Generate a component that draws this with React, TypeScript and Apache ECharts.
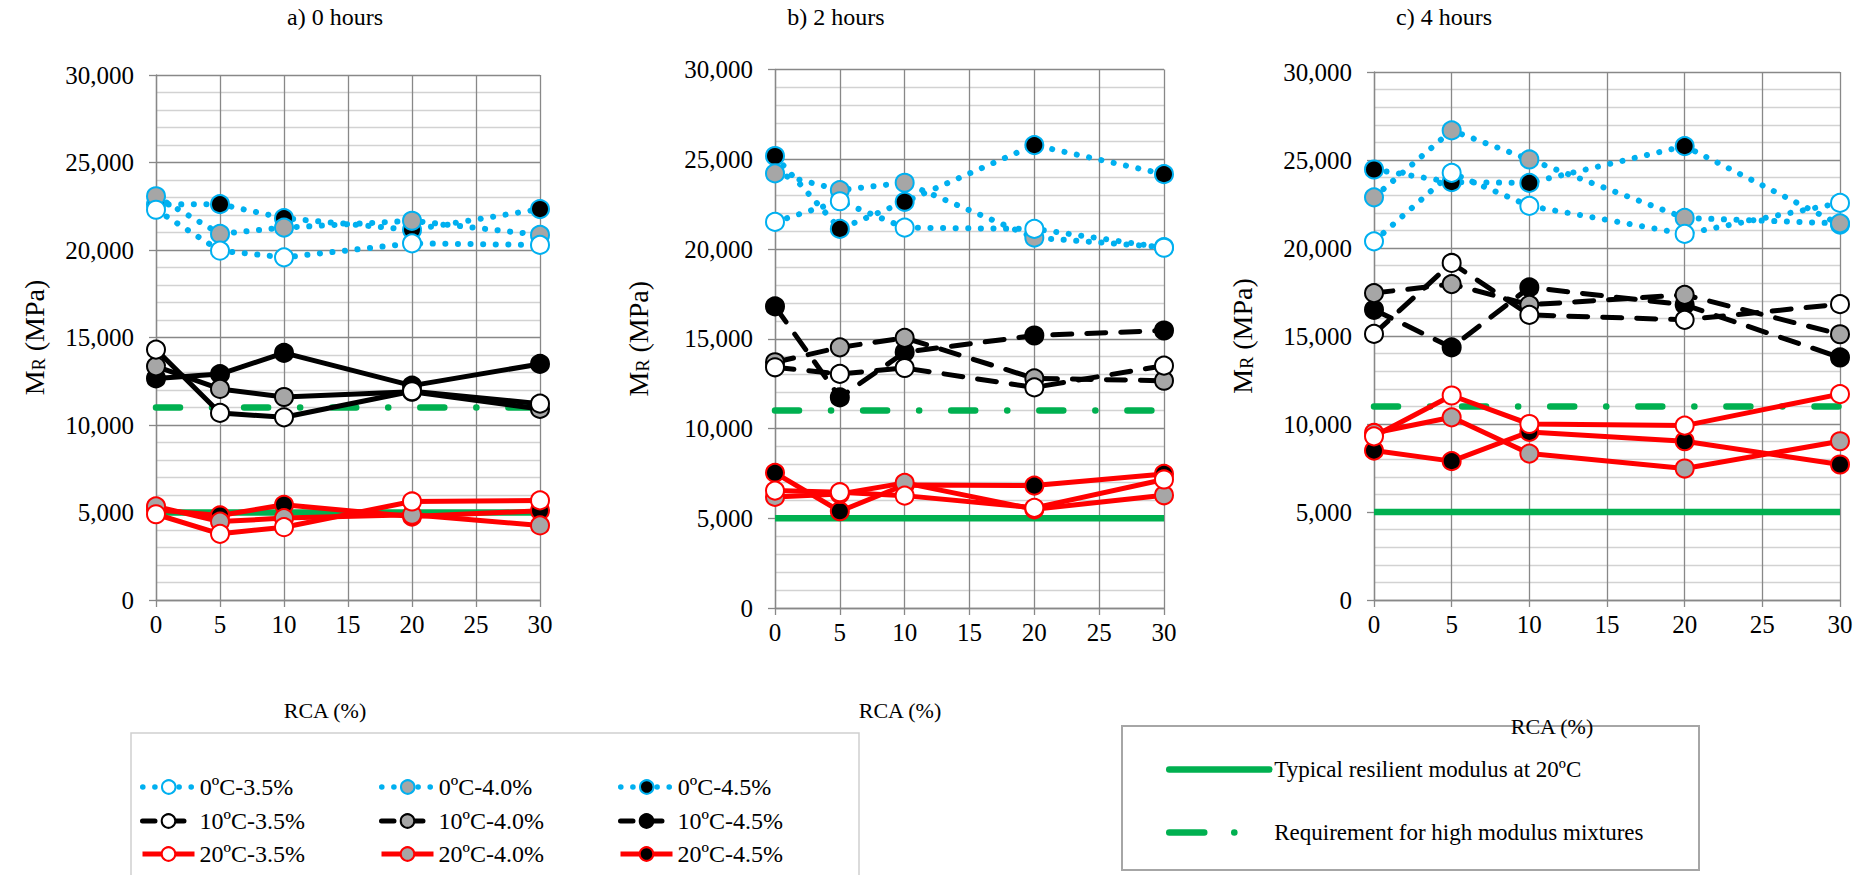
import React, { useEffect, useRef } from 'react';
import * as echarts from 'echarts';

const FONT = 'Liberation Serif, Times New Roman, serif';

// X positions (RCA %) of the measured points
const RCA = [0, 5, 10, 20, 30];

// Reference levels
const TYPICAL_20C = 5000;
const HIGH_MODULUS_REQ = 11000;

// a) 0 hours
const A_0C_35 = [22300, 19960, 19580, 20380, 20290];
const A_0C_40 = [23070, 20920, 21280, 21670, 20860];
const A_0C_45 = [22600, 22620, 21820, 21150, 22340];
const A_10C_35 = [14310, 10690, 10440, 11930, 11220];
const A_10C_40 = [13350, 12060, 11600, 11900, 10920];
const A_10C_45 = [12660, 12910, 14120, 12250, 13490];
const A_20C_35 = [4900, 3780, 4160, 5630, 5690];
const A_20C_40 = [5350, 4480, 4680, 4870, 4260];
const A_20C_45 = [5150, 4830, 5440, 4770, 5100];

// b) 2 hours
const B_0C_35 = [21510, 22660, 21190, 21120, 20070];
const B_0C_40 = [24210, 23280, 23690, 20630, 20100];
const B_0C_45 = [25180, 21120, 22630, 25790, 24170];
const B_10C_35 = [13410, 13040, 13370, 12290, 13500];
const B_10C_40 = [13690, 14520, 15050, 12790, 12660];
const B_10C_45 = [16800, 11730, 14250, 15180, 15460];
const B_20C_35 = [6540, 6450, 6260, 5580, 7160];
const B_20C_40 = [6190, 6350, 6970, 5500, 6280];
const B_20C_45 = [7530, 5390, 6850, 6820, 7470];

// c) 4 hours
const C_0C_35 = [20380, 24270, 22390, 20800, 22560];
const C_0C_40 = [22880, 26680, 25030, 21710, 21400];
const C_0C_45 = [24460, 23740, 23700, 25790, 21330];
const C_10C_35 = [15120, 19150, 16200, 15920, 16810];
const C_10C_40 = [17440, 17950, 16770, 17340, 15100];
const C_10C_45 = [16490, 14350, 17760, 16770, 13780];
const C_20C_35 = [9300, 11620, 10000, 9910, 11700];
const C_20C_40 = [9490, 10380, 8320, 7470, 9020];
const C_20C_45 = [8490, 7890, 9550, 9020, 7700];

const TITLES = ['a) 0 hours', 'b) 2 hours', 'c) 4 hours'];
const X_NAME = 'RCA (%)';
const NAMES_0C = ['0ºC-3.5%', '0ºC-4.0%', '0ºC-4.5%'];
const NAMES_10C = ['10ºC-3.5%', '10ºC-4.0%', '10ºC-4.5%'];
const NAMES_20C = ['20ºC-3.5%', '20ºC-4.0%', '20ºC-4.5%'];
const NAME_TYPICAL = 'Typical resilient modulus at 20ºC';
const NAME_REQ = 'Requirement for high modulus mixtures';

const BLUE = '#00B0F0';
const RED = '#FF0000';
const GREEN = '#00B050';
const GRAY_FILL = '#A6A6A6';
const GRID_C = '#888888';
const MINOR_C = '#D2D2D2';
const FILLS = ['#FFFFFF', GRAY_FILL, '#000000'];

const GRIDS = [
  { left: 156, top: 75, width: 384, height: 525 },
  { left: 775, top: 69.5, width: 389, height: 538.5 },
  { left: 1374, top: 72, width: 466, height: 528 },
];
const Y_NAME_GAP = [108, 123, 118];
const TITLE_POS = [[335, 17], [836, 17], [1444, 17]];
const XNAME_POS = [[325, 710], [900, 710], [1552, 726]];

const CHART_DATA = [
  [[A_0C_35, A_0C_40, A_0C_45], [A_10C_35, A_10C_40, A_10C_45], [A_20C_35, A_20C_40, A_20C_45]],
  [[B_0C_35, B_0C_40, B_0C_45], [B_10C_35, B_10C_40, B_10C_45], [B_20C_35, B_20C_40, B_20C_45]],
  [[C_0C_35, C_0C_40, C_0C_45], [C_10C_35, C_10C_40, C_10C_45], [C_20C_35, C_20C_40, C_20C_45]],
];
const TEMP_NAMES = [NAMES_0C, NAMES_10C, NAMES_20C];

const DOT = [0.1, 12.5];
const LONG_DASH = [19, 15];

function lineStyleFor(t: number, gi: number) {
  if (t === 0) return { color: BLUE, width: 6, type: DOT, cap: 'round', join: 'round' };
  if (t === 1) {
    if (gi === 0) return { color: '#000', width: 5, type: 'solid', join: 'round' };
    return { color: '#000', width: 5, type: LONG_DASH, cap: 'round', join: 'round' };
  }
  return { color: RED, width: 5, type: 'solid', join: 'round' };
}
const STROKES = [BLUE, '#000', RED];

function buildSeries() {
  const out: any[] = [];
  const order = [1, 0, 2];
  order.forEach((gi) => {
    out.push({
      type: 'line', name: NAME_TYPICAL, xAxisIndex: gi, yAxisIndex: gi,
      data: [[0, TYPICAL_20C], [30, TYPICAL_20C]], symbol: 'none',
      lineStyle: { color: GREEN, width: 6.5, type: 'solid' },
      itemStyle: { color: GREEN }, z: 2, silent: true, emphasis: { disabled: true },
    });
    out.push({
      type: 'line', name: NAME_REQ, xAxisIndex: gi, yAxisIndex: gi,
      data: [[0, HIGH_MODULUS_REQ], [30, HIGH_MODULUS_REQ]], symbol: 'none',
      lineStyle: { color: GREEN, width: 6.5, type: [24, 32, 0.1, 32], cap: 'round' },
      itemStyle: { color: GREEN }, z: 2, silent: true, emphasis: { disabled: true },
    });
    [2, 1, 0].forEach((t) => {
      [2, 1, 0].forEach((c) => {
        const vals = CHART_DATA[gi][t][c];
        out.push({
          type: 'line', name: TEMP_NAMES[t][c], xAxisIndex: gi, yAxisIndex: gi,
          data: RCA.map((x, i) => [x, vals[i]]),
          symbol: 'circle', symbolSize: 18, showSymbol: true,
          lineStyle: lineStyleFor(t, gi),
          itemStyle: { color: FILLS[c], borderColor: STROKES[t], borderWidth: 2 },
          z: 3, silent: true, emphasis: { disabled: true },
        });
      });
    });
  });
  return out;
}

function buildLegends() {
  const cols = [140, 379, 618];
  const rows = [775, 809, 842];
  const legendTypes: any[] = [[0.1, 12], [12.5, 20, 9, 100], 'solid'];
  const legends: any[] = [];
  TEMP_NAMES.forEach((names, r) => {
    names.forEach((n, c) => {
      legends.push({
        left: cols[c], top: rows[r], orient: 'horizontal', data: [n], padding: 0,
        itemWidth: 52, itemHeight: 17, selectedMode: false,
        lineStyle: { width: r === 0 ? 5.5 : 5, type: legendTypes[r], cap: r === 2 ? 'butt' : 'round' },
        textStyle: { fontFamily: FONT, fontSize: 24, color: '#000' },
      });
    });
  });
  legends.push({
    left: 1166, top: 758, orient: 'horizontal', data: [NAME_TYPICAL], padding: 0,
    itemWidth: 100, itemHeight: 14, selectedMode: false,
    lineStyle: { width: 6.5, type: 'solid', cap: 'round' },
    itemStyle: { opacity: 0, borderWidth: 0 },
    textStyle: { fontFamily: FONT, fontSize: 23, color: '#000' },
  });
  legends.push({
    left: 1166, top: 821, orient: 'horizontal', data: [NAME_REQ], padding: 0,
    itemWidth: 100, itemHeight: 14, selectedMode: false,
    lineStyle: { width: 6.5, type: [35, 30, 0.1, 200], cap: 'round' },
    itemStyle: { opacity: 0, borderWidth: 0 },
    textStyle: { fontFamily: FONT, fontSize: 23, color: '#000' },
  });
  return legends;
}

const TICK_RICH = { t: { fontFamily: FONT, fontSize: 25, color: '#000' } };

function buildAxes() {
  const xAxis = GRIDS.map((_, gi) => ({
    type: 'value', gridIndex: gi, min: 0, max: 30, interval: 5,
    axisLine: { show: true, onZero: false, lineStyle: { color: GRID_C, width: 1.3 } },
    axisTick: { show: true, inside: false, length: 7, lineStyle: { color: GRID_C, width: 1.3 } },
    axisLabel: {
      margin: 12, color: '#000', fontFamily: FONT, fontSize: 25,
      formatter: (v: number) => `{t|${v}}`, rich: TICK_RICH,
    },
    splitLine: { show: true, lineStyle: { color: GRID_C, width: 1.3 } },
  }));
  const yAxis = GRIDS.map((_, gi) => ({
    type: 'value', gridIndex: gi, min: 0, max: 30000, interval: 5000,
    axisLine: { show: true, lineStyle: { color: GRID_C, width: 1.3 } },
    axisTick: { show: true, inside: false, length: 7, lineStyle: { color: GRID_C, width: 1.3 } },
    axisLabel: {
      margin: 22, color: '#000', fontFamily: FONT, fontSize: 25,
      formatter: (v: number) => `{t|${v.toLocaleString('en-US')}}`, rich: TICK_RICH,
    },
    splitLine: { show: true, lineStyle: { color: GRID_C, width: 1.3 } },
    minorTick: { show: false, splitNumber: 5 },
    minorSplitLine: { show: true, lineStyle: { color: MINOR_C, width: 1.3 } },
    name: '{m|M}{s|R}{m| (MPa)}', nameLocation: 'middle', nameGap: Y_NAME_GAP[gi], nameRotate: 90,
    nameTextStyle: {
      color: '#000', fontFamily: FONT, fontSize: 28,
      rich: {
        m: { fontFamily: FONT, fontSize: 28, color: '#000', lineHeight: 28, verticalAlign: 'top' },
        s: { fontFamily: FONT, fontSize: 18, color: '#000', lineHeight: 18, verticalAlign: 'bottom', padding: [13, 0, 0, 0] },
      },
    },
  }));
  return { xAxis, yAxis };
}

function buildGraphic() {
  const g: any[] = [
    { type: 'rect', shape: { x: 131, y: 733, width: 728, height: 170 }, style: { fill: 'none', stroke: '#D0D0D0', lineWidth: 1.5 }, silent: true },
    { type: 'rect', shape: { x: 1122, y: 726, width: 577, height: 144 }, style: { fill: 'none', stroke: '#A6A6A6', lineWidth: 2 }, silent: true },
  ];
  TITLES.forEach((t, i) => {
    g.push({ type: 'text', x: TITLE_POS[i][0], y: TITLE_POS[i][1], silent: true,
      style: { text: t, fontFamily: FONT, fontSize: 24, fill: '#000', align: 'center', verticalAlign: 'middle' } });
    g.push({ type: 'text', x: XNAME_POS[i][0], y: XNAME_POS[i][1], silent: true,
      style: { text: X_NAME, fontFamily: FONT, fontSize: 22, fill: '#000', align: 'center', verticalAlign: 'middle' } });
  });
  return g;
}

export default function App() {
  const ref = useRef<HTMLDivElement>(null);
  useEffect(() => {
    if (!ref.current) return;
    const chart = echarts.init(ref.current, undefined, { renderer: 'svg' });
    const { xAxis, yAxis } = buildAxes();
    chart.setOption({
      animation: false,
      backgroundColor: '#FFFFFF',
      textStyle: { fontFamily: FONT },
      grid: GRIDS.map((g) => ({ ...g, containLabel: false })),
      xAxis,
      yAxis,
      legend: buildLegends(),
      series: buildSeries(),
      graphic: buildGraphic(),
    });
    return () => chart.dispose();
  }, []);
  return (
    <div
      ref={ref}
      style={{ position: 'fixed', left: 0, top: 0, width: 1856, height: 875, background: '#fff' }}
    />
  );
}
